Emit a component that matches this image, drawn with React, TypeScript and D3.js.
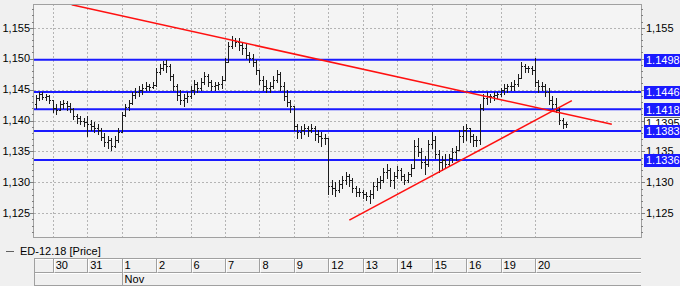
import React from "react";
import * as d3 from "d3";

const dayLabels = ["30", "31", "1", "2", "6", "7", "8", "9", "12", "13", "14", "15", "16", "19", "20"];
const monthLabels = ["Nov"];
const monthStartDay = [2];
const legendLabel = "ED-12.18 [Price]";

const highs = [
  1.1441, 1.1446, 1.1446, 1.1443, 1.1441,
  1.1433, 1.1427, 1.1432, 1.1433, 1.1432, 1.1428, 1.1420, 1.1411, 1.1407, 1.1404,
  1.1407, 1.1401, 1.1398, 1.1394, 1.1388, 1.1380, 1.1375, 1.1372, 1.1375, 1.1388,
  1.1414, 1.1427, 1.1433, 1.1446, 1.1453, 1.1456, 1.1459, 1.1462, 1.1459, 1.1462,
  1.1485, 1.1491, 1.1496, 1.1498, 1.1491, 1.1475, 1.1459, 1.1449, 1.1443, 1.1446,
  1.1456, 1.1466, 1.1462, 1.1469, 1.1478, 1.1475, 1.1466, 1.1462, 1.1462, 1.1472,
  1.1501, 1.1527, 1.1537, 1.1533, 1.1533, 1.1527, 1.1524, 1.1511, 1.1508, 1.1498,
  1.1482, 1.1472, 1.1466, 1.1462, 1.1472, 1.1482, 1.1478, 1.1462, 1.1449, 1.1433,
  1.1417, 1.1394, 1.1391, 1.1394, 1.1391, 1.1394, 1.1391, 1.1385, 1.1381, 1.1378,
  1.1372, 1.1304, 1.1301, 1.1304, 1.1310, 1.1317, 1.1314, 1.1307, 1.1294, 1.1291,
  1.1288, 1.1284, 1.1288, 1.1301, 1.1307, 1.1310, 1.1323, 1.1330, 1.1323, 1.1317,
  1.1326, 1.1323, 1.1314, 1.1317, 1.1330, 1.1369, 1.1372, 1.1356, 1.1343, 1.1369,
  1.1381, 1.1375, 1.1352, 1.1343, 1.1346, 1.1346, 1.1356, 1.1359, 1.1385, 1.1391,
  1.1394, 1.1388, 1.1378, 1.1375, 1.1427, 1.1443, 1.1446, 1.1443, 1.1446, 1.1446,
  1.1453, 1.1459, 1.1459, 1.1462, 1.1466, 1.1475, 1.1495, 1.1491, 1.1488, 1.1488,
  1.1501, 1.1466, 1.1462, 1.1459, 1.1453, 1.1440, 1.1436, 1.1420, 1.1404, 1.1398,
];

const lows = [
  1.1420, 1.1433, 1.1435, 1.1433, 1.1428,
  1.1414, 1.1411, 1.1417, 1.1420, 1.1417, 1.1414, 1.1402, 1.1396, 1.1394, 1.1391,
  1.1375, 1.1385, 1.1381, 1.1378, 1.1369, 1.1359, 1.1356, 1.1352, 1.1357, 1.1365,
  1.1385, 1.1407, 1.1417, 1.1427, 1.1436, 1.1440, 1.1443, 1.1449, 1.1449, 1.1453,
  1.1456, 1.1475, 1.1482, 1.1478, 1.1466, 1.1449, 1.1433, 1.1427, 1.1423, 1.1430,
  1.1436, 1.1443, 1.1446, 1.1449, 1.1459, 1.1456, 1.1449, 1.1449, 1.1451, 1.1453,
  1.1466, 1.1495, 1.1517, 1.1520, 1.1514, 1.1508, 1.1501, 1.1495, 1.1488, 1.1475,
  1.1459, 1.1449, 1.1446, 1.1446, 1.1453, 1.1462, 1.1449, 1.1433, 1.1423, 1.1414,
  1.1385, 1.1372, 1.1372, 1.1378, 1.1375, 1.1381, 1.1369, 1.1365, 1.1359, 1.1362,
  1.1281, 1.1281, 1.1278, 1.1284, 1.1291, 1.1297, 1.1294, 1.1284, 1.1278, 1.1278,
  1.1275, 1.1272, 1.1267, 1.1275, 1.1288, 1.1291, 1.1301, 1.1307, 1.1294, 1.1291,
  1.1307, 1.1304, 1.1297, 1.1301, 1.1310, 1.1326, 1.1343, 1.1323, 1.1314, 1.1326,
  1.1356, 1.1339, 1.1317, 1.1320, 1.1323, 1.1326, 1.1333, 1.1336, 1.1352, 1.1365,
  1.1369, 1.1365, 1.1359, 1.1359, 1.1362, 1.1417, 1.1427, 1.1430, 1.1433, 1.1436,
  1.1440, 1.1443, 1.1446, 1.1449, 1.1449, 1.1456, 1.1469, 1.1478, 1.1478, 1.1475,
  1.1456, 1.1446, 1.1449, 1.1440, 1.1427, 1.1420, 1.1414, 1.1394, 1.1388, 1.1390,
];

const closes = [
  1.1436, 1.1443, 1.1438, 1.1440, 1.1433,
  1.1420, 1.1417, 1.1427, 1.1428, 1.1423, 1.1419, 1.1407, 1.1404, 1.1399, 1.1398,
  1.1394, 1.1391, 1.1388, 1.1385, 1.1373, 1.1365, 1.1369, 1.1359, 1.1369, 1.1381,
  1.1409, 1.1422, 1.1428, 1.1441, 1.1446, 1.1449, 1.1453, 1.1456, 1.1454, 1.1457,
  1.1478, 1.1485, 1.1491, 1.1488, 1.1472, 1.1456, 1.1441, 1.1433, 1.1436, 1.1440,
  1.1449, 1.1459, 1.1453, 1.1462, 1.1472, 1.1462, 1.1456, 1.1457, 1.1459, 1.1466,
  1.1495, 1.1520, 1.1530, 1.1527, 1.1522, 1.1517, 1.1506, 1.1501, 1.1495, 1.1482,
  1.1466, 1.1456, 1.1453, 1.1456, 1.1466, 1.1475, 1.1456, 1.1440, 1.1430, 1.1423,
  1.1391, 1.1381, 1.1385, 1.1388, 1.1385, 1.1388, 1.1378, 1.1375, 1.1372, 1.1372,
  1.1294, 1.1291, 1.1288, 1.1297, 1.1304, 1.1310, 1.1304, 1.1291, 1.1284, 1.1284,
  1.1281, 1.1278, 1.1281, 1.1294, 1.1301, 1.1304, 1.1317, 1.1320, 1.1304, 1.1310,
  1.1320, 1.1310, 1.1304, 1.1314, 1.1323, 1.1359, 1.1349, 1.1333, 1.1330, 1.1362,
  1.1369, 1.1346, 1.1333, 1.1336, 1.1330, 1.1339, 1.1349, 1.1352, 1.1375, 1.1385,
  1.1388, 1.1375, 1.1369, 1.1369, 1.1420, 1.1436, 1.1440, 1.1440, 1.1441, 1.1443,
  1.1449, 1.1453, 1.1456, 1.1456, 1.1459, 1.1469, 1.1488, 1.1485, 1.1485, 1.1482,
  1.1462, 1.1456, 1.1456, 1.1446, 1.1433, 1.1427, 1.1417, 1.1401, 1.1394, 1.1395,
];
const firstOpen = 1.1427;

const levels = [1.1498, 1.1446, 1.1418, 1.1383, 1.1336];
const yTicks = [1.125, 1.13, 1.135, 1.14, 1.145, 1.15, 1.155];

const downTrendIdx = [10.5, 167.3];
const downTrendPrice = [1.1587, 1.1394];
const upTrendIdx = [91.1, 155.7];
const upTrendPrice = [1.1239, 1.1432];

const W = 680;
const H = 286;
const PL = 34, PR = 641, PT = 4, PB = 237;
const firstDayBar = 5;
const barsPerDay = 10;
const FONT = "'Liberation Sans', Arial, sans-serif";
const BLUE = "#1a1aff";

export default function App() {
  const n = closes.length;
  const x = d3.scaleLinear().domain([0, n - 1]).range([35.5, 566]);
  const y = d3.scaleLinear().domain([1.12117, 1.15883]).range([PB, PT]);
  const fmt = (v: number) => d3.format(".3f")(v).replace(".", ",");
  const fmt4 = d3.format(".4f");

  const opens = closes.map((_, i) => (i === 0 ? firstOpen : closes[i - 1]));
  const gridX = dayLabels.map((_, k) => x(firstDayBar + k * barsPerDay));

  let barPath = "";
  for (let i = 0; i < n; i++) {
    const cx = Math.round(x(i)) + 0.5;
    const hi = Math.max(highs[i], opens[i], closes[i]);
    const lo = Math.min(lows[i], opens[i], closes[i]);
    const yh = Math.round(y(hi));
    const yl = Math.round(y(lo)) + 1;
    barPath += `M${cx},${yh}V${yl}`;
    const yo = Math.round(y(opens[i])) + 0.5;
    const yc = Math.round(y(closes[i])) + 0.5;
    barPath += `M${cx - 1.5},${yo}H${cx}`;
    barPath += `M${cx},${yc}H${cx + 1.5}`;
  }

  const line = d3.line<[number, number]>().x((d) => x(d[0])).y((d) => y(d[1]));
  const downPts: [number, number][] = downTrendIdx.map((v, i) => [v, downTrendPrice[i]]);
  const upPts: [number, number][] = upTrendIdx.map((v, i) => [v, upTrendPrice[i]]);

  const minorTicks = d3.range(1122, 1159).map((v) => v / 1000);
  const lastClose = closes[n - 1];
  const boxed = [...levels, lastClose];
  const rightTicks = yTicks.filter((t) => boxed.every((b) => Math.abs(b - t) > 0.0008));

  const row1Top = 258.5, row2Top = 272.5, rowBottom = 285.5;

  return (
    <div style={{ position: "fixed", left: 0, top: 0, width: W, height: H }}>
      <svg width={W} height={H} style={{ display: "block", fontFamily: FONT }}>
        <rect x={0} y={0} width={W} height={H} fill="#f0f0f0" />
        <rect x={PL} y={PT} width={PR - PL} height={PB - PT} fill="#f4f4f4" />
        <defs>
          <clipPath id="plotclip">
            <rect x={PL} y={PT} width={PR - PL} height={PB - PT} />
          </clipPath>
        </defs>

        {yTicks.map((t) => (
          <line key={"gy" + t} x1={PL} x2={PR} y1={Math.round(y(t)) + 0.5} y2={Math.round(y(t)) + 0.5}
            stroke="#b4b4b4" strokeDasharray="2,2" />
        ))}
        {gridX.map((gx, k) => (
          <line key={"gx" + k} x1={Math.round(gx) + 0.5} x2={Math.round(gx) + 0.5} y1={PT} y2={PB}
            stroke="#b4b4b4" strokeDasharray="2,2" />
        ))}

        {levels.map((lv) => (
          <line key={"lv" + lv} x1={PL} x2={PR} y1={y(lv)} y2={y(lv)} stroke={BLUE} strokeWidth={2} />
        ))}

        <g clipPath="url(#plotclip)">
          <path d={barPath} stroke="#1c1c1c" strokeWidth={1} fill="none" />
          <path d={line(downPts) || ""} stroke="#ff1010" strokeWidth={1.5} fill="none" />
          <path d={line(upPts) || ""} stroke="#ff1010" strokeWidth={1.5} fill="none" />
        </g>

        <rect x={PL - 0.5} y={PT + 0.5} width={PR - PL + 1} height={PB - PT} fill="none" stroke="#a0a0a0" />

        {minorTicks.map((t) => (
          <line key={"lt" + t} x1={PL - (Math.round(t * 1000) % 5 === 0 ? 4 : 2)} x2={PL}
            y1={Math.round(y(t)) + 0.5} y2={Math.round(y(t)) + 0.5} stroke="#808080" />
        ))}
        {yTicks.map((t) => (
          <text key={"ly" + t} x={30} y={y(t)} dy="0.35em" textAnchor="end" fontSize={11} fill="#000">
            {fmt(t)}
          </text>
        ))}

        {minorTicks.map((t) => (
          <line key={"rt" + t} x1={PR} x2={PR + (Math.round(t * 1000) % 5 === 0 ? 4 : 2)}
            y1={Math.round(y(t)) + 0.5} y2={Math.round(y(t)) + 0.5} stroke="#808080" />
        ))}
        {rightTicks.map((t) => (
          <text key={"ry" + t} x={646} y={y(t)} dy="0.35em" fontSize={11} fill="#000">
            {fmt(t)}
          </text>
        ))}

        <rect x={644.5} y={Math.round(y(lastClose)) - 6.5} width={40} height={13} fill="#fff" stroke="#606060" />
        <text x={646} y={y(lastClose)} dy="0.35em" fontSize={11} fill="#000">{fmt4(lastClose)}</text>

        {levels.map((lv) => (
          <g key={"lb" + lv}>
            <rect x={644} y={Math.round(y(lv)) - 6} width={40} height={13} fill={BLUE} />
            <text x={646} y={y(lv)} dy="0.38em" fontSize={11} fill="#fff">{fmt4(lv)}</text>
          </g>
        ))}

        <line x1={6} x2={14} y1={251.5} y2={251.5} stroke="#606060" />
        <text x={20} y={251.5} dy="0.35em" fontSize={11} fill="#000">{legendLabel}</text>

        <line x1={PL} x2={PR} y1={row1Top} y2={row1Top} stroke="#a0a0a0" />
        <line x1={PL} x2={PR} y1={row1Top + 1} y2={row1Top + 1} stroke="#ffffff" />
        <line x1={PL} x2={PR} y1={row2Top} y2={row2Top} stroke="#a0a0a0" />
        <line x1={PL} x2={PR} y1={row2Top + 1} y2={row2Top + 1} stroke="#ffffff" />
        <line x1={PL} x2={PR} y1={rowBottom} y2={rowBottom} stroke="#a0a0a0" />
        <line x1={PL + 0.5} x2={PL + 0.5} y1={row1Top} y2={rowBottom} stroke="#a0a0a0" />
        {gridX.map((gx, k) => (
          <g key={"dc" + k}>
            <line x1={Math.round(gx) + 0.5} x2={Math.round(gx) + 0.5} y1={row1Top} y2={row2Top} stroke="#a0a0a0" />
            <line x1={Math.round(gx) + 1.5} x2={Math.round(gx) + 1.5} y1={row1Top + 1} y2={row2Top} stroke="#ffffff" />
            <text x={gx + 3} y={265.5} dy="0.35em" fontSize={11} fill="#000">{dayLabels[k]}</text>
          </g>
        ))}
        {monthLabels.map((m, k) => {
          const mx = gridX[monthStartDay[k]];
          return (
            <g key={"m" + k}>
              <line x1={Math.round(mx) + 0.5} x2={Math.round(mx) + 0.5} y1={row2Top} y2={rowBottom} stroke="#a0a0a0" />
              <text x={mx + 3} y={279.5} dy="0.35em" fontSize={11} fill="#000">{m}</text>
            </g>
          );
        })}
      </svg>
    </div>
  );
}
